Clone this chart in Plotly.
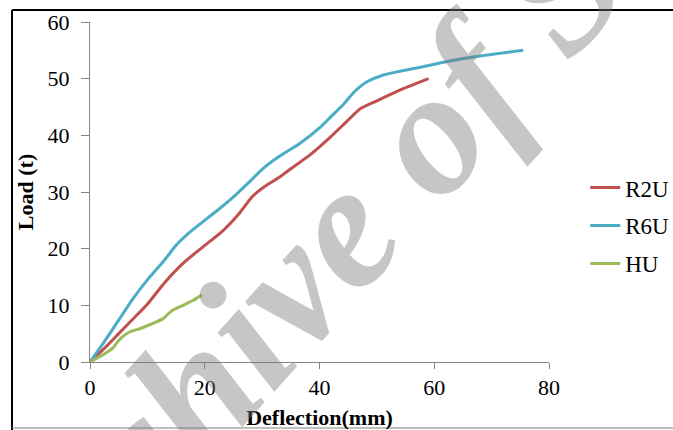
import plotly.graph_objects as go

# ---- data ----
r2u_x = [0, 2.5, 5, 7.5, 10, 13, 16.3, 19.8, 23, 26, 28.3, 30.5, 33, 35, 38.4, 41.8, 44.8, 47.1, 50, 53.8, 59]
r2u_y = [0, 2.4, 5.0, 7.6, 10.2, 14.0, 17.5, 20.4, 23.0, 26.2, 29.2, 31.0, 32.6, 34.1, 36.6, 39.6, 42.5, 44.7, 46.1, 47.9, 50.0]

r6u_x = [0, 2.5, 5, 7.5, 10, 13, 15, 17.5, 20, 22.5, 25.5, 28, 30, 33, 36.5, 40, 42, 44.2, 46, 48.2, 51, 54, 58, 62, 68, 75.5]
r6u_y = [0, 3.6, 7.4, 11.2, 14.5, 18, 20.6, 23.0, 25.0, 27.0, 29.6, 32, 34, 36.3, 38.5, 41.3, 43.3, 45.5, 47.6, 49.4, 50.6, 51.3, 52.1, 53.0, 54.0, 55.0]

hu_x = [0, 2, 4, 5, 6.7, 9, 12.8, 14.2, 16, 18, 19.5]
hu_y = [0, 1.1, 2.5, 3.8, 5.2, 6.0, 7.7, 9.0, 9.9, 10.9, 11.8]

series_names = ["R2U", "R6U", "HU"]
series_colors = ["#C0504D", "#4BACC6", "#9BBB59"]

x_ticks = [0, 20, 40, 60, 80]
y_ticks = [0, 10, 20, 30, 40, 50, 60]

x_title = "Deflection(mm)"
y_title = "Load (t)"
watermark = "Archive of SID"

FONT = "Liberation Serif, Times New Roman, serif"

fig = go.Figure()
for name, xs, ys, col in zip(series_names, [r2u_x, r6u_x, hu_x], [r2u_y, r6u_y, hu_y], series_colors):
    fig.add_trace(go.Scatter(
        x=xs, y=ys, name=name, mode="lines",
        line=dict(color=col, width=3, shape="spline", smoothing=0.6),
        legendgroup=name,
    ))

axis_col = "#868686"
fig.update_layout(
    width=673, height=430,
    margin=dict(l=90, r=124, t=22, b=68, autoexpand=False),
    paper_bgcolor="white", plot_bgcolor="white",
    font=dict(family=FONT, size=22, color="black"),
    showlegend=True,
    legend=dict(
        x=1.079, y=0.576, xanchor="left", yanchor="top",
        font=dict(family=FONT, size=23, color="black"),
        tracegroupgap=5, bgcolor="rgba(0,0,0,0)",
    ),
    xaxis=dict(
        range=[0, 80], tickvals=x_ticks, showgrid=False, zeroline=False,
        showline=True, linecolor=axis_col, linewidth=1, automargin=False,
        ticks="outside", ticklen=6, tickcolor=axis_col,
        tickfont=dict(family=FONT, size=22, color="black"),
        title=dict(text="<b>" + x_title + "</b>", font=dict(family=FONT, size=22, color="black"), standoff=18),
    ),
    yaxis=dict(
        range=[0, 60], tickvals=y_ticks, showgrid=False, zeroline=False,
        showline=True, linecolor=axis_col, linewidth=1, automargin=False,
        ticks="outside", ticklen=8, tickcolor=axis_col, ticklabelstandoff=7,
        tickfont=dict(family=FONT, size=22, color="black"),
        title=dict(text="<b>" + y_title + "</b>", font=dict(family=FONT, size=22, color="black"), standoff=7),
    ),
)

# frame around the chart
fig.add_shape(type="line", xref="paper", yref="paper", x0=-0.1699, x1=1.2702, y0=1.0353, y1=1.0353,
              line=dict(color="black", width=2))
fig.add_shape(type="line", xref="paper", yref="paper", x0=-0.1699, x1=-0.1699, y0=1.0353, y1=-0.2,
              line=dict(color="black", width=2))
fig.add_shape(type="line", xref="paper", yref="paper", x0=-0.1699, x1=1.2702, y0=-0.1941, y1=-0.1941,
              line=dict(color="#808080", width=1))

# watermark
fig.add_annotation(
    text=watermark, xref="paper", yref="paper", x=0.564, y=0.421,
    showarrow=False, textangle=-48,
    font=dict(family=FONT, size=178, color="rgba(120,120,120,0.42)", style="italic", weight="bold"),
)

fig.write_html("out.html", config={"displayModeBar": False},
               post_script="document.body.style.margin='0px';")
